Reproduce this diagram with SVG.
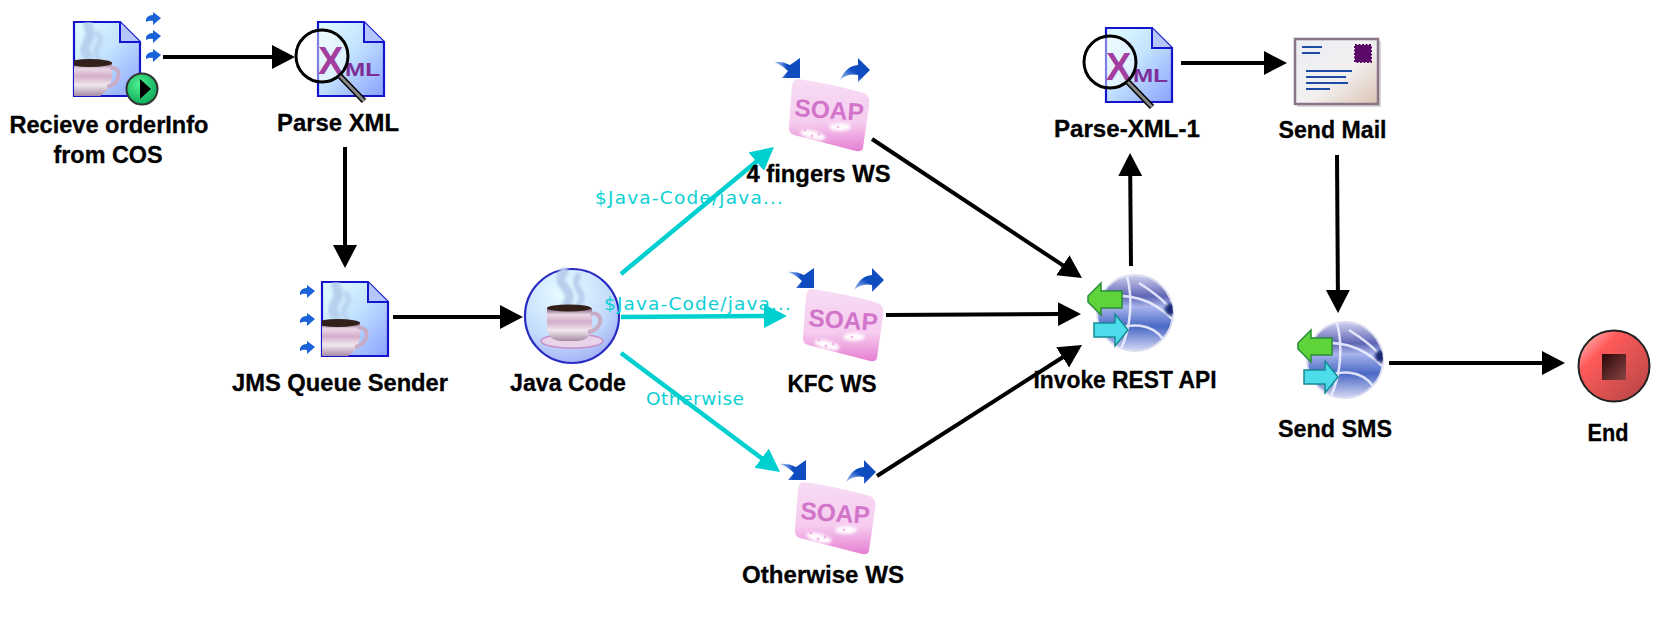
<svg xmlns="http://www.w3.org/2000/svg" width="1670" height="624" viewBox="0 0 1670 624">
<style>
.lbl{font-family:"Liberation Sans",Arial,sans-serif;font-weight:700;font-size:23.7px;fill:#000;text-anchor:middle;stroke:#000;stroke-width:.3px}
.cond{font-family:"DejaVu Sans",Verdana,sans-serif;font-size:18.5px;fill:#0cd0d4}
.blk{fill:none;stroke:#000;stroke-width:4;marker-end:url(#hb)}
.teal{fill:none;stroke:#00cfd0;stroke-width:4.5;marker-end:url(#ht)}
</style>
<defs>
<marker id="hb" markerUnits="userSpaceOnUse" markerWidth="24" markerHeight="26" refX="2" refY="12" orient="auto"><path d="M0,0L23,12L0,24Z" fill="#000"/></marker>
<marker id="ht" markerUnits="userSpaceOnUse" markerWidth="24" markerHeight="26" refX="2" refY="12" orient="auto"><path d="M0,0L23,12L0,24Z" fill="#00cfd0"/></marker>
<filter id="soft" x="-30%" y="-30%" width="160%" height="160%"><feGaussianBlur stdDeviation="1.6"/></filter>
<linearGradient id="gDoc" x1="0" y1="0" x2="1" y2="1"><stop offset="0" stop-color="#e2fcff"/><stop offset=".45" stop-color="#c4e4ff"/><stop offset="1" stop-color="#8aa2ff"/></linearGradient>
<linearGradient id="gCup" x1="0" y1="0" x2="0" y2="1"><stop offset="0" stop-color="#6b4a62"/><stop offset=".2" stop-color="#ead8e6"/><stop offset=".42" stop-color="#d4aecb"/><stop offset=".68" stop-color="#f0e8ee"/><stop offset="1" stop-color="#a88aa4"/></linearGradient>
<linearGradient id="gSoap" x1="0" y1="0" x2="0" y2="1"><stop offset="0" stop-color="#f7dcf4"/><stop offset=".6" stop-color="#f6ccef"/><stop offset="1" stop-color="#e67fd2"/></linearGradient>
<linearGradient id="gIn" x1="0" y1="0" x2="1" y2="0"><stop offset="0" stop-color="#b8d4ff"/><stop offset=".5" stop-color="#0f4cc0"/></linearGradient>
<linearGradient id="gOut" x1="0" y1="1" x2="1" y2="0"><stop offset="0" stop-color="#c0d8ff"/><stop offset=".45" stop-color="#0f4cc0"/></linearGradient>
<linearGradient id="gGlobe" x1="0" y1="0" x2="0" y2="1"><stop offset="0" stop-color="#d0d0f0"/><stop offset=".28" stop-color="#6066b4"/><stop offset=".42" stop-color="#a8b4ec"/><stop offset=".68" stop-color="#4a68c4"/><stop offset="1" stop-color="#d4d8f4"/></linearGradient>
<linearGradient id="gMail" x1="0" y1="0" x2="1" y2="1"><stop offset="0" stop-color="#ececf4"/><stop offset=".55" stop-color="#f2f0f0"/><stop offset="1" stop-color="#dcc4b4"/></linearGradient>
<linearGradient id="gEnd" x1="0" y1="0" x2="1" y2="1"><stop offset="0" stop-color="#ffd0d0"/><stop offset=".3" stop-color="#ff5a5a"/><stop offset="1" stop-color="#b04444"/></linearGradient>
<linearGradient id="gStop" x1="0" y1="0" x2="1" y2="1"><stop offset="0" stop-color="#2a0808"/><stop offset="1" stop-color="#8a4444"/></linearGradient>
<radialGradient id="gPlay" cx=".4" cy=".35" r=".7"><stop offset="0" stop-color="#50f090"/><stop offset="1" stop-color="#08a858"/></radialGradient>
<radialGradient id="gJava" cx=".4" cy=".25" r=".85"><stop offset="0" stop-color="#e8fcff"/><stop offset=".6" stop-color="#c4dcfc"/><stop offset="1" stop-color="#98a4f4"/></radialGradient>
<clipPath id="cDoc"><path d="M0,0H46L66,20V74H0Z"/></clipPath>
<clipPath id="cGlobe"><circle r="38"/></clipPath>
<path id="smallArr" d="M0,7Q2,3 7,3V0L15,6L7,13V9Q3,8 0,10Z" fill="#1a62d8"/>
<g id="steam" fill="none" stroke="#b8cfee" stroke-linecap="round" filter="url(#soft)"><path d="M14,34C4,24 22,18 14,4" stroke-width="9"/><path d="M24,36C16,26 32,22 24,12" stroke-width="6" opacity=".8"/></g>
<g id="docBase"><path d="M0,0H46L66,20V74H0Z" fill="url(#gDoc)" stroke="#1414cc" stroke-width="2.2"/><path d="M46,0L66,20H46Z" fill="#b4c6fb"/><path d="M46,0V20H66" fill="none" stroke="#1414cc" stroke-width="2"/></g>
<g id="cupDoc"><use href="#docBase"/><g clip-path="url(#cDoc)"><use href="#steam"/><path d="M0,40H38V56Q36,68 26,74H0Z" fill="url(#gCup)"/><path d="M36,46C48,44 48,62 33,65" fill="none" stroke="#c8acc6" stroke-width="4"/><ellipse cx="16" cy="41" rx="22" ry="4" fill="#32201a"/></g></g>
<g id="xmlDoc"><use href="#docBase"/><circle cx="4" cy="34" r="26" fill="#fff" fill-opacity=".45"/><text x="0" y="52" font-family="Liberation Sans,Arial,sans-serif" font-weight="700" font-size="38" fill="#a23f9e">X</text><text x="27" y="54" font-family="Liberation Sans,Arial,sans-serif" font-weight="700" font-size="19" fill="#7d2f97" textLength="35" lengthAdjust="spacingAndGlyphs">ML</text><circle cx="4" cy="34" r="26" fill="none" stroke="#000" stroke-width="3"/><path d="M22,54L46,79" stroke="#000" stroke-width="6"/><path d="M22,54L46,79" stroke="#888" stroke-width="3"/></g>
<g id="soap"><path d="M10,1Q44,6 76,15Q83,18 81,28L75,70Q74,74 68,73L6,57Q0,55 1,48L4,8Q5,1 10,1Z" fill="url(#gSoap)"/><text x="6" y="38" transform="rotate(4 6 38)" font-family="Liberation Sans,Arial,sans-serif" font-weight="700" font-size="24.5" fill="#d274ca">SOAP</text><g fill="#fff" filter="url(#soft)" opacity=".95"><ellipse cx="25" cy="57" rx="13" ry="4.5" transform="rotate(15 25 57)"/><ellipse cx="52" cy="49" rx="11" ry="4"/></g><g fill="#f2b4e4"><circle cx="17" cy="52" r="1.5"/><circle cx="24" cy="58" r="1.5"/><circle cx="31" cy="56" r="1.5"/><circle cx="50" cy="49" r="1.3"/></g></g>
<path id="inArr" d="M0,4Q8,3 16,7L26,0V20H8L14,13Q8,7 0,4Z" fill="url(#gIn)"/>
<path id="outArr" d="M0,22Q6,8 18,7V0L30,12L18,24V17Q8,15 0,22Z" fill="url(#gOut)"/>
<g id="globe"><circle r="38" fill="url(#gGlobe)" stroke="#dcdcf0" stroke-width="2"/><g clip-path="url(#cGlobe)"><g fill="none" stroke="#eef0ff" stroke-width="2.5" opacity=".9"><path d="M-8,-37C-2,-14 -4,14 -14,36"/><path d="M-34,-14C-10,-22 18,-14 37,6"/><path d="M-30,22C-4,6 18,12 28,26"/><path d="M4,-30C20,-20 30,-12 37,-2"/></g><circle cx="36" cy="-4" r="6" fill="#1c2c74" filter="url(#soft)"/></g><path d="M-47,-17L-34,-30V-22H-13V-5H-34V2L-47,-11Z" fill="#5ed43a" stroke="#2a8c38" stroke-width="1.5"/><path d="M-41,10H-20V1L-7,17L-20,33V24H-41Z" fill="#4cdcea" stroke="#148c94" stroke-width="1.5"/></g>
</defs>

<g id="connectors">
<path class="blk" d="M163,57H274"/>
<path class="blk" d="M345,147V247"/>
<path class="blk" d="M393,317H502"/>
<path class="teal" d="M621,274L757.8,160.4"/>
<path class="teal" d="M621,317L766,316.1"/>
<path class="teal" d="M621,353L763.2,459.4"/>
<path class="blk" d="M872,139L1064.5,266.4"/>
<path class="blk" d="M886,315L1060,314.1"/>
<path class="blk" d="M877,476L1064.3,356.3"/>
<path class="blk" d="M1131,266L1130.2,174"/>
<path class="blk" d="M1181,63H1266"/>
<path class="blk" d="M1337,155L1337.9,292"/>
<path class="blk" d="M1389,363H1544"/>
</g>

<g id="n-receive">
<use href="#cupDoc" x="74" y="22"/>
<use href="#smallArr" x="146" y="12"/><use href="#smallArr" x="146" y="30"/><use href="#smallArr" x="146" y="49"/>
<circle cx="142" cy="89" r="15.5" fill="url(#gPlay)" stroke="#333" stroke-width="2"/><path d="M140,79L151,89L140,99Z" fill="#000"/>
<text class="lbl" x="109" y="133" textLength="199" lengthAdjust="spacingAndGlyphs">Recieve orderInfo</text><text class="lbl" x="108" y="163" textLength="109" lengthAdjust="spacingAndGlyphs">from COS</text>
</g>
<g id="n-parse-xml"><use href="#xmlDoc" x="318" y="22"/><text class="lbl" x="338" y="131" textLength="122" lengthAdjust="spacingAndGlyphs">Parse XML</text></g>
<g id="n-jms">
<use href="#cupDoc" x="322" y="282"/>
<use href="#smallArr" x="300" y="285"/><use href="#smallArr" x="300" y="313"/><use href="#smallArr" x="300" y="341"/>
<text class="lbl" x="340" y="391" textLength="216" lengthAdjust="spacingAndGlyphs">JMS Queue Sender</text>
</g>
<g id="n-java">
<circle cx="572" cy="316" r="47" fill="url(#gJava)" stroke="#2a2ac4" stroke-width="2.2"/>
<g filter="url(#soft)" fill="none" stroke="#b8cfee" stroke-linecap="round"><path d="M564,272C552,286 578,288 566,306" stroke-width="9"/><path d="M578,276C570,290 590,292 578,306" stroke-width="6"/></g>
<ellipse cx="572" cy="341" rx="31" ry="7" fill="#e8d4ea" stroke="#c890c8" stroke-width="1.5"/>
<path d="M547,308H592V330Q590,340 578,341H560Q549,340 547,330Z" fill="url(#gCup)"/>
<path d="M590,314C604,310 604,330 588,332" fill="none" stroke="#c8acc6" stroke-width="4"/>
<ellipse cx="569" cy="308" rx="22" ry="3.5" fill="#32201a"/>
<text class="lbl" x="568" y="391" textLength="116" lengthAdjust="spacingAndGlyphs">Java Code</text>
</g>
<g id="n-4fingers"><use href="#soap" x="788" y="78"/><use href="#inArr" x="774" y="58"/><use href="#outArr" x="840" y="58"/><text class="lbl" x="818.5" y="182" textLength="144" lengthAdjust="spacingAndGlyphs">4 fingers WS</text></g>
<g id="n-kfc"><use href="#soap" x="802" y="288"/><use href="#inArr" x="788" y="268"/><use href="#outArr" x="854" y="268"/><text class="lbl" x="832" y="392" textLength="89" lengthAdjust="spacingAndGlyphs">KFC WS</text></g>
<g id="n-otherwise"><use href="#soap" x="794" y="481"/><use href="#inArr" x="780" y="460"/><use href="#outArr" x="846" y="460"/><text class="lbl" x="823" y="583" textLength="162" lengthAdjust="spacingAndGlyphs">Otherwise WS</text></g>
<g id="n-rest"><use href="#globe" x="1135" y="313"/><text class="lbl" x="1125" y="388" textLength="183" lengthAdjust="spacingAndGlyphs">Invoke REST API</text></g>
<g id="n-parse-xml-1"><use href="#xmlDoc" x="1106" y="28"/><text class="lbl" x="1127" y="137" textLength="146" lengthAdjust="spacingAndGlyphs">Parse-XML-1</text></g>
<g id="n-mail">
<rect x="1297" y="41" width="84" height="66" fill="#d8d8d8"/>
<rect x="1295" y="39" width="83" height="65" fill="url(#gMail)" stroke="#8a7488" stroke-width="2.5"/>
<g stroke="#1c4ca8" stroke-width="1.8"><path d="M1302,47H1322M1302,53H1320M1306,71H1352M1306,77H1346M1306,83H1348M1306,89H1330"/></g>
<rect x="1355" y="45" width="16" height="17" fill="#5c0a68" stroke="#5c0a68" stroke-width="2" stroke-dasharray="2 1.5"/>
<text class="lbl" x="1332.5" y="138" textLength="108" lengthAdjust="spacingAndGlyphs">Send Mail</text>
</g>
<g id="n-sms"><use href="#globe" x="1345" y="360"/><text class="lbl" x="1335" y="437" textLength="114" lengthAdjust="spacingAndGlyphs">Send SMS</text></g>
<g id="n-end">
<circle cx="1614" cy="366" r="35.5" fill="url(#gEnd)" stroke="#222" stroke-width="2"/>
<rect x="1602" y="354" width="24" height="26" fill="url(#gStop)"/>
<text class="lbl" x="1608" y="441" textLength="41" lengthAdjust="spacingAndGlyphs">End</text>
</g>

<g id="connector-labels">
<text class="cond" x="595" y="204" textLength="188">$Java-Code/java...</text>
<text class="cond" x="604" y="310" textLength="187">$Java-Code/java...</text>
<text class="cond" x="646" y="405" textLength="98">Otherwise</text>
</g>
</svg>
